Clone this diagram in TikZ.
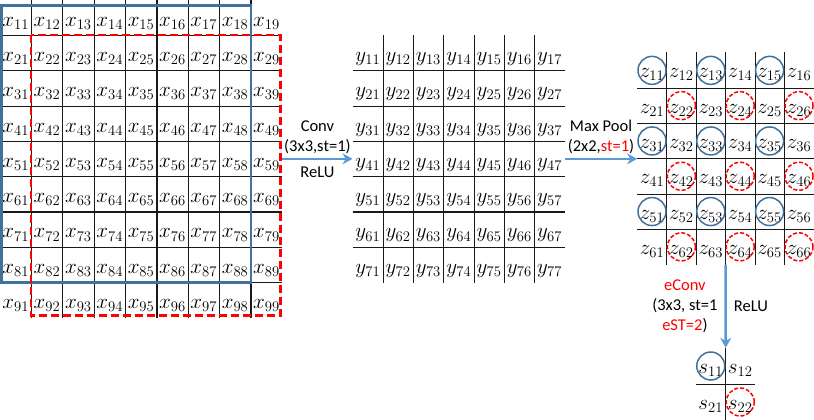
\RequirePackage{fix-cm}
\documentclass[tikz,border=0pt]{standalone}
\usepackage{amsmath}
\usepackage{fontspec}
\usepackage{xcolor}
\usepackage{tikz}
\usetikzlibrary{positioning, arrows.meta}
\newfontfamily\labelfont{Carlito}
\definecolor{boxblue}{RGB}{65,113,156}
\definecolor{arrowblue}{RGB}{91,155,213}

\begin{document}
\begin{tikzpicture}[x=1pt,y=-1pt,
    xcell/.style={minimum width=31.35pt,minimum height=35.3pt,inner sep=0pt,text height=17pt,text depth=0pt,font=\fontsize{21}{23}\selectfont},
    ycell/.style={xcell,minimum width=30.3pt},
    zcell/.style={xcell,minimum width=29.4pt,text height=15pt},
    scell/.style={zcell,minimum width=29.5pt,minimum height=36pt},
    gridline/.style={black!90,line width=1.1pt},
    flow/.style={arrowblue,line width=2.5pt,-{Stealth[length=10pt,width=11pt]}},
    lbl/.style={text=black,font=\labelfont\fontsize{16.5}{20}\selectfont,align=center,inner sep=4pt},
    bluering/.style={boxblue,line width=1.5pt},
    redring/.style={red,line width=1.5pt,dash pattern=on 4pt off 2pt}]
    \useasboundingbox (0,0) rectangle (814,420);
    \foreach \r in {1,...,9} {
        \foreach \c in {1,...,9} {
            \node[xcell] (x\r\c) at ({(\c-0.5)*31.35},{(\r-0.5)*35.3}) {$x_{\r\c}$};
        }
    }
    \foreach \r in {1,...,7} {
        \foreach \c in {1,...,7} {
            \node[ycell] (y\r\c) at ({352.7+(\c-0.5)*30.3},{35.3+(\r-0.5)*35.3}) {$y_{\r\c}$};
        }
    }
    \foreach \r in {1,...,6} {
        \foreach \c in {1,...,6} {
            \node[zcell] (z\r\c) at ({637.3+(\c-0.5)*29.4},{52.7+(\r-0.5)*35.3}) {$z_{\r\c}$};
        }
    }
    \foreach \r in {1,2} {
        \foreach \c in {1,2} {
            \node[scell] (s\r\c) at ({696+(\c-0.5)*29.5},{348+(\r-0.5)*36}) {$s_{\r\c}$};
        }
    }
    \foreach \i in {1,...,8} {
        \draw[gridline] (x1\i.north east) -- (x9\i.south east);
        \draw[gridline] (x\i1.south west) -- (x\i9.south east);
    }
    \foreach \i in {1,...,6} {
        \draw[gridline] (y1\i.north east) -- (y7\i.south east);
        \draw[gridline] (y\i1.south west) -- (y\i7.south east);
    }
    \foreach \i in {1,...,5} {
        \draw[gridline] (z1\i.north east) -- (z6\i.south east);
        \draw[gridline] (z\i1.south west) -- (z\i6.south east);
    }
    \draw[gridline] (s11.north east) -- (s21.south east);
    \draw[gridline] (s11.south west) -- (s12.south east);
    \draw[boxblue, line width=2.5pt] ([shift={(1.5,5.5)}]x11.north west) rectangle (x88.south east);
    \draw[red, line width=2.5pt, dash pattern=on 8pt off 4pt] (x22.north west) rectangle ([shift={(-2,-2.5)}]x99.south east);
    \foreach \r in {1,3,5} {
        \foreach \c in {1,3,5} {
            \draw[bluering] (z\r\c) circle (14pt);
        }
    }
    \foreach \r in {2,4,6} {
        \foreach \c in {2,4,6} {
            \draw[redring] (z\r\c) circle (14pt);
        }
    }
    \draw[bluering] (s11) circle (14pt);
    \draw[redring] (s22) circle (14pt);
    \draw[flow] (x59.east) -- node[lbl, above] (convtxt) {Conv\\(3x3,st=1)} node[lbl, below=3pt] (convrelu) {ReLU} (y41.west);
    \draw[flow] (y47.east) -- node[lbl, above] (pooltxt) {Max Pool\\(2x2,\textcolor{red}{st=1})} (y47.east -| z41.west);
    \draw[flow] (z63.south east) -- node[lbl, left=3pt] (econvtxt) {\textcolor{red}{eConv}\\(3x3, st=1\\\textcolor{red}{eST=2})} node[lbl, right=3pt] (econvrelu) {ReLU} (s11.north east);
\end{tikzpicture}
\end{document}
